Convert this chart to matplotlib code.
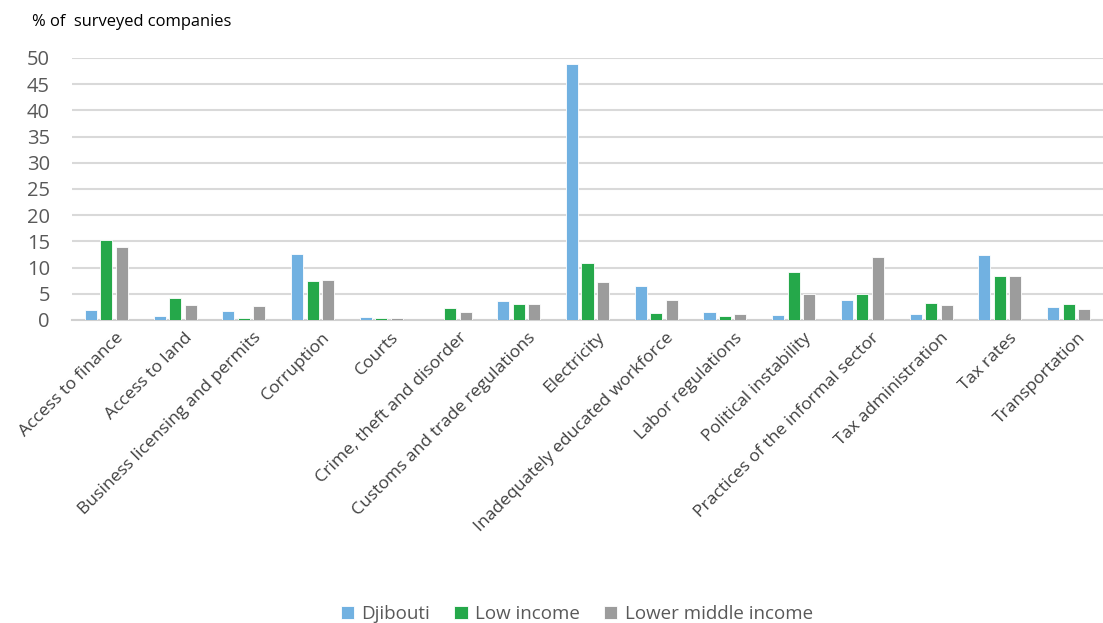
import matplotlib
matplotlib.use("Agg")
import matplotlib.pyplot as plt
import matplotlib.transforms as mtransforms
import numpy as np

categories = [
    "Access to finance", "Access to land", "Business licensing and permits",
    "Corruption", "Courts", "Crime, theft and disorder",
    "Customs and trade regulations", "Electricity",
    "Inadequately educated workforce", "Labor regulations",
    "Political instability", "Practices of the informal sector",
    "Tax administration", "Tax rates", "Transportation",
]
djibouti = [1.9, 0.8, 1.7, 12.6, 0.6, 0.0, 3.7, 48.8, 6.5, 1.6, 0.9, 3.9, 1.2, 12.4, 2.5]
low_income = [15.2, 4.2, 0.3, 7.4, 0.4, 2.2, 3.0, 10.8, 1.4, 0.7, 9.1, 4.9, 3.3, 8.4, 3.1]
lower_middle = [13.9, 2.9, 2.6, 7.7, 0.4, 1.5, 3.0, 7.3, 3.9, 1.1, 4.9, 12.1, 2.8, 8.4, 2.0]
series_names = ["Djibouti", "Low income", "Lower middle income"]
colors = ["#71B1E1", "#25A84A", "#9C9C9C"]

plt.rcParams["font.family"] = ["Open Sans", "DejaVu Sans"]

fig = plt.figure(figsize=(11.03, 6.23), dpi=100)
ax = fig.add_axes([0.0653, 0.4864, 0.9347, 0.4206])

x = np.arange(len(categories))
width = 0.175
step = 0.225
for i, (vals, name, col) in enumerate(zip([djibouti, low_income, lower_middle], series_names, colors)):
    ax.bar(x + (i - 1) * step, vals, width=width, color=col, label=name,
           edgecolor="white", linewidth=0.6, zorder=3)

ax.set_xlim(-0.5, len(categories) - 0.5)
ax.set_ylim(0, 50)
ax.set_yticks(np.arange(0, 51, 5))
ax.yaxis.grid(True, color="#D9D9D9", linewidth=1.5, zorder=0)
ax.set_axisbelow(True)
for s in ["top", "right", "left"]:
    ax.spines[s].set_visible(False)
ax.spines["bottom"].set_color("#D0D0D0")
ax.spines["bottom"].set_linewidth(1.5)
ax.tick_params(axis="both", length=0)
ax.tick_params(axis="y", labelsize=14.5, labelcolor="#595959", pad=16)

ax.set_xticks(x)
ax.set_xticklabels(categories, rotation=45, ha="right", va="top",
                   rotation_mode="anchor", fontsize=12.6, color="#404040")
ax.tick_params(axis="x", pad=7)
shift = mtransforms.ScaledTranslation(9 / 100, 0, fig.dpi_scale_trans)
for lbl in ax.get_xticklabels():
    lbl.set_transform(lbl.get_transform() + shift)

fig.text(0.029, 0.965, "% of  surveyed companies", fontsize=11.9, color="black",
         ha="left", va="center")

handles, labels = ax.get_legend_handles_labels()
fig.legend(handles, labels, loc="center", bbox_to_anchor=(0.523, 0.015), ncol=3,
           frameon=False, fontsize=13.5, labelcolor="#595959", handlelength=0.7,
           handleheight=0.7, handletextpad=0.4, columnspacing=1.3)

fig.savefig("out.png", dpi=100)
